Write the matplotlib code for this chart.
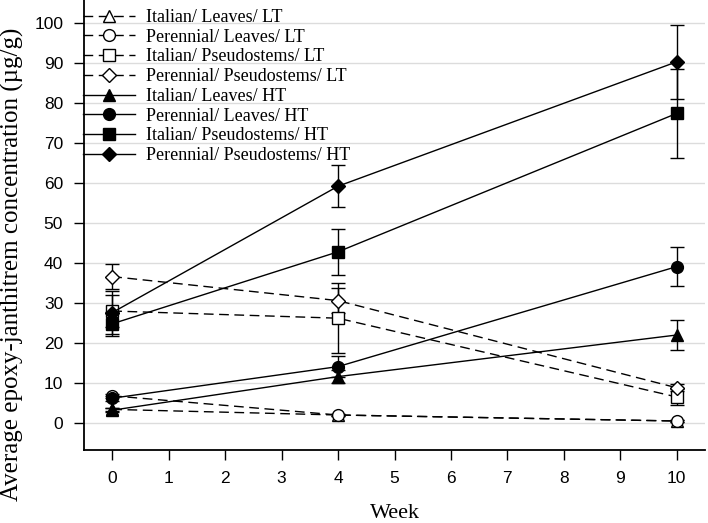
import matplotlib
matplotlib.use("Agg")
import matplotlib.pyplot as plt
import numpy as np

weeks = [0, 4, 10]
labels = ["Italian/ Leaves/ LT", "Perennial/ Leaves/ LT", "Italian/ Pseudostems/ LT",
          "Perennial/ Pseudostems/ LT", "Italian/ Leaves/ HT", "Perennial/ Leaves/ HT",
          "Italian/ Pseudostems/ HT", "Perennial/ Pseudostems/ HT"]
it_leaves_lt = [3.4, 2.0, 0.5]
pe_leaves_lt = [6.8, 2.0, 0.5]
it_pseudo_lt = [28.0, 26.2, 6.5]
pe_pseudo_lt = [36.6, 30.6, 8.8]
it_leaves_ht = [3.2, 11.6, 22.0]
pe_leaves_ht = [6.2, 14.1, 39.1]
it_pseudo_ht = [24.8, 42.8, 77.4]
pe_pseudo_ht = [27.6, 59.2, 90.3]
err_it_leaves_lt = [0.3, 0.3, 0.2]
err_pe_leaves_lt = [0.5, 0.3, 0.3]
err_it_pseudo_lt = [4.0, 8.7, 1.9]
err_pe_pseudo_lt = [3.2, 3.1, 0.9]
err_it_leaves_ht = [0.5, 1.7, 3.8]
err_pe_leaves_ht = [0.6, 2.6, 4.8]
err_it_pseudo_ht = [3.0, 5.8, 11.1]
err_pe_pseudo_ht = [5.4, 5.2, 9.2]

series = [it_leaves_lt, pe_leaves_lt, it_pseudo_lt, pe_pseudo_lt,
          it_leaves_ht, pe_leaves_ht, it_pseudo_ht, pe_pseudo_ht]
errors = [err_it_leaves_lt, err_pe_leaves_lt, err_it_pseudo_lt, err_pe_pseudo_lt,
          err_it_leaves_ht, err_pe_leaves_ht, err_it_pseudo_ht, err_pe_pseudo_ht]
markers = ["^", "o", "s", "D", "^", "o", "s", "D"]
filled = [False] * 4 + [True] * 4
msizes = [8, 8.5, 8, 7.5, 8, 8.5, 8, 7.5]

fig = plt.figure(figsize=(7.08, 5.23), dpi=100)
ax = fig.add_axes([84 / 708, (523 - 450) / 523, (705 - 84) / 708, 450 / 523])

for k in range(8):
    ax.errorbar(weeks, series[k], yerr=errors[k], fmt="none", ecolor="black",
                elinewidth=1.0, capsize=5, capthick=1.0, zorder=3)
for k in range(8):
    ls = (0, (7, 4)) if not filled[k] else "-"
    ax.plot(weeks, series[k], linestyle=ls, color="black", lw=1.0,
            marker=markers[k], markersize=msizes[k],
            markerfacecolor="black" if filled[k] else "white",
            markeredgecolor="black", markeredgewidth=1.0,
            label=labels[k], zorder=4)

ax.set_xlim(-0.5, 10.5)
ax.set_ylim(-6.75, 105.75)
ax.set_xticks(range(0, 11))
ax.set_yticks(range(0, 101, 10))
ax.yaxis.grid(True, color="#dcdcdc", lw=1.0)
ax.set_axisbelow(True)
for s in ["top", "right"]:
    ax.spines[s].set_visible(False)
for s in ["left", "bottom"]:
    ax.spines[s].set_linewidth(1.3)
ax.tick_params(direction="out", length=7, width=1.0, labelsize=12.5, pad=8)
for t in ax.get_xticklabels() + ax.get_yticklabels():
    t.set_fontfamily("Liberation Sans")

ax.set_xlabel("Week", fontfamily="Liberation Serif", fontsize=16, labelpad=13)
ax.set_ylabel("Average epoxy-janthitrem concentration (\u00b5g/g)",
              fontfamily="Liberation Serif", fontsize=18)
ax.yaxis.set_label_coords(-0.097, 0.413)

leg = ax.legend(loc="upper left", bbox_to_anchor=(-0.007, 0.988), frameon=False,
                prop={"family": "Liberation Serif", "size": 13},
                handlelength=2.85, handletextpad=0.6, labelspacing=0.15,
                borderaxespad=0.0, borderpad=0.2)

fig.savefig("out.png", dpi=100)
